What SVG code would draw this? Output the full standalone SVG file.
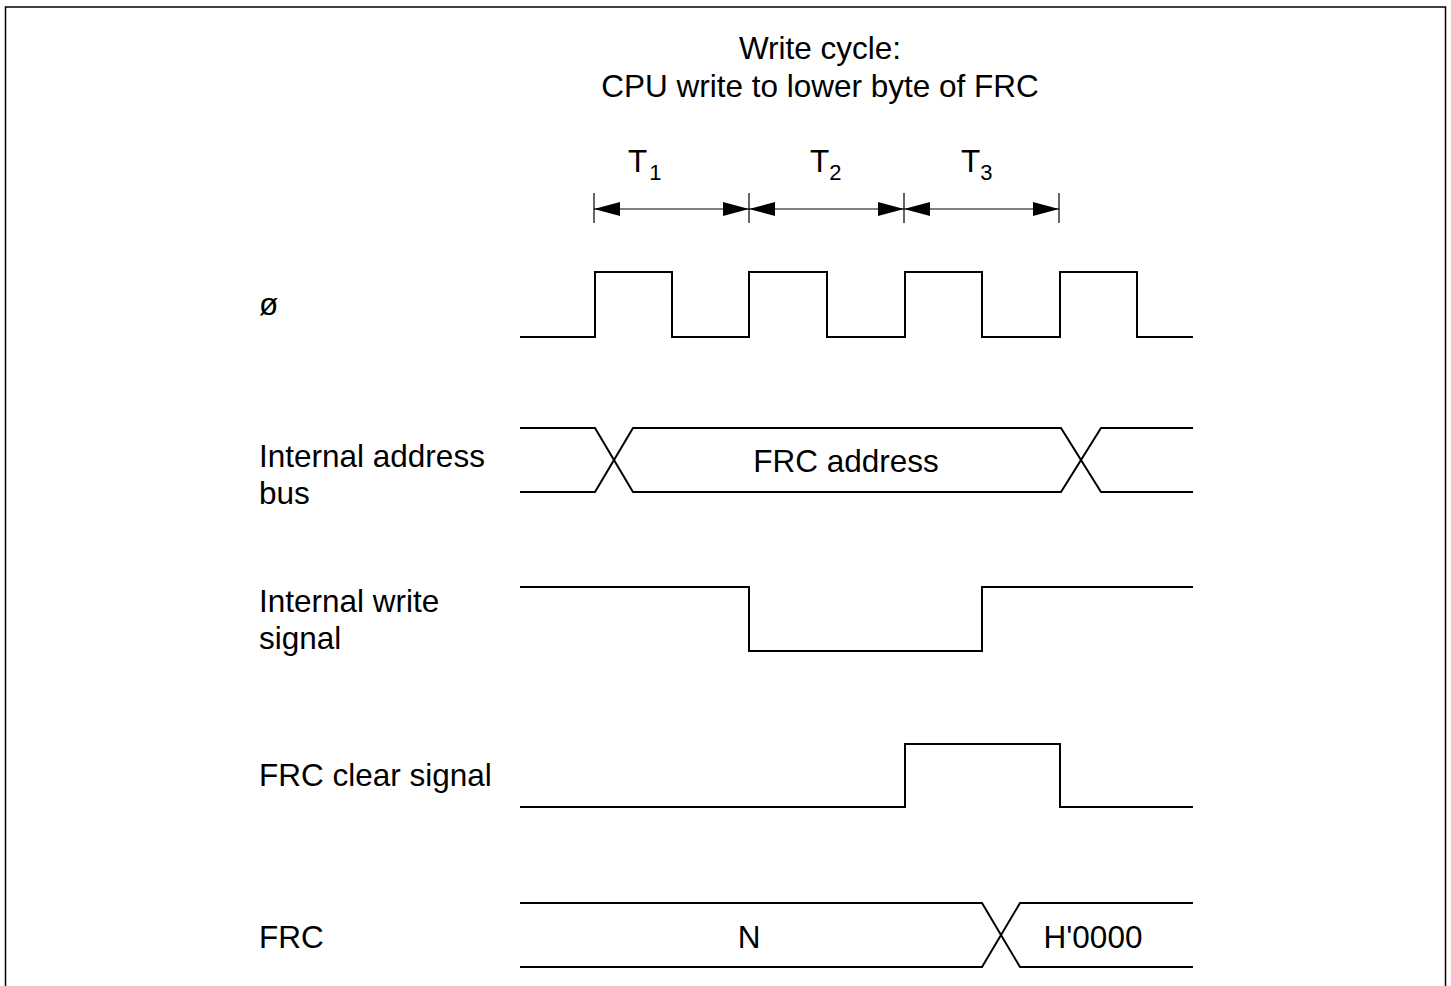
<svg xmlns="http://www.w3.org/2000/svg" width="1451" height="986" viewBox="0 0 1451 986">
<style>
text{font-family:"Liberation Sans",Arial,sans-serif;font-size:31.5px;fill:#000}
.sub{font-size:22px}
.w{fill:none;stroke:#000;stroke-width:2}
.t{fill:none;stroke:#000;stroke-width:1.2}
</style>
<defs>
<marker id="ah" viewBox="0 0 26 14" refX="26" refY="7" markerWidth="26" markerHeight="14" markerUnits="userSpaceOnUse" orient="auto-start-reverse">
<path d="M0,0 L26,7 L0,14 Z" fill="#000"/>
</marker>
</defs>
<rect width="1451" height="986" fill="#fff"/>
<path d="M5.5,986 V7 H1445.5 V986" fill="none" stroke="#000" stroke-width="1.5"/>
<g id="title">
<text x="820" y="59" text-anchor="middle">Write cycle:</text>
<text x="820" y="97" text-anchor="middle">CPU write to lower byte of FRC</text>
</g>
<g id="states">
<text x="628" y="172">T<tspan class="sub" dx="2" dy="8">1</tspan></text>
<text x="810" y="172">T<tspan class="sub" dy="8">2</tspan></text>
<text x="961" y="172">T<tspan class="sub" dy="8">3</tspan></text>
</g>
<g id="connectors">
<path class="t" d="M594,193 V223 M749,193 V223 M904,193 V223 M1059,193 V223"/>
<line class="t" x1="594" y1="209" x2="749" y2="209" marker-start="url(#ah)" marker-end="url(#ah)"/>
<line class="t" x1="749" y1="209" x2="904" y2="209" marker-start="url(#ah)" marker-end="url(#ah)"/>
<line class="t" x1="904" y1="209" x2="1059" y2="209" marker-start="url(#ah)" marker-end="url(#ah)"/>
</g>
<g id="clock">
<text x="259" y="315">ø</text>
<path class="w" d="M520,337 H595 V272 H672 V337 H749 V272 H827 V337 H905 V272 H982 V337 H1060 V272 H1137 V337 H1193"/>
</g>
<g id="address-bus">
<text x="259" y="467">Internal address</text>
<text x="259" y="504">bus</text>
<path class="w" d="M520,428 H595 L633,492 H1061 L1101,428 H1193"/>
<path class="w" d="M520,492 H595 L633,428 H1061 L1101,492 H1193"/>
<text x="846" y="472" text-anchor="middle">FRC address</text>
</g>
<g id="write-signal">
<text x="259" y="612">Internal write</text>
<text x="259" y="649">signal</text>
<path class="w" d="M520,587 H749 V651 H982 V587 H1193"/>
</g>
<g id="clear-signal">
<text x="259" y="786">FRC clear signal</text>
<path class="w" d="M520,807 H905 V744 H1060 V807 H1193"/>
</g>
<g id="frc">
<text x="259" y="948">FRC</text>
<path class="w" d="M520,903 H982 L1020,967 H1193"/>
<path class="w" d="M520,967 H982 L1020,903 H1193"/>
<text x="749" y="948" text-anchor="middle">N</text>
<text x="1093" y="948" text-anchor="middle">H'0000</text>
</g>
</svg>
